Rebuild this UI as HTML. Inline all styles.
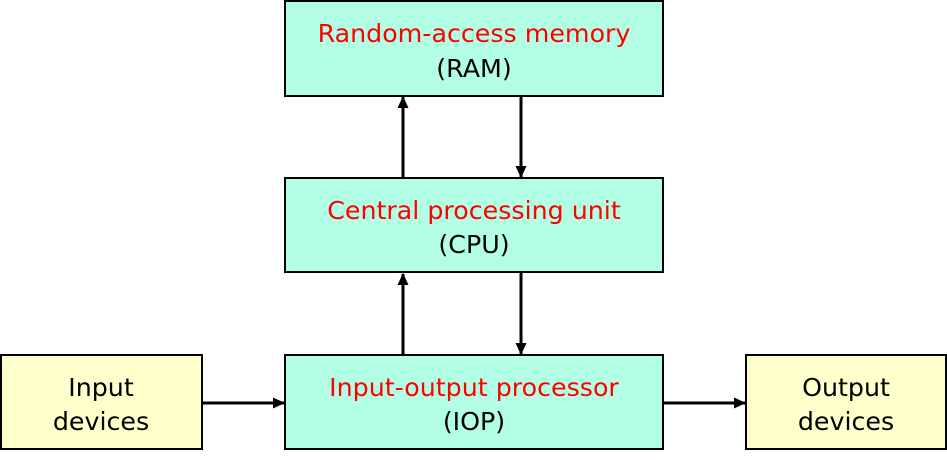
<!DOCTYPE html>
<html><head><style>html,body{margin:0;padding:0;background:#fff}</style></head><body>
<svg width="947" height="456" xmlns="http://www.w3.org/2000/svg" font-family="'DejaVu Sans', 'Liberation Sans', sans-serif" font-size="25.3" text-anchor="middle">
<defs><marker id="a" markerWidth="12" markerHeight="12" refX="11" refY="5.5" orient="auto" markerUnits="userSpaceOnUse"><path d="M0,0 L12,5.5 L0,11 z" fill="#000"/></marker></defs>
<g stroke="#000" stroke-width="2">
<rect x="285" y="1" width="378" height="95" fill="#b3ffe6"/>
<rect x="285" y="178" width="378" height="94" fill="#b3ffe6"/>
<rect x="285" y="355" width="378" height="94" fill="#b3ffe6"/>
<rect x="1" y="355" width="201" height="94" fill="#ffffcc"/>
<rect x="746" y="355" width="200" height="94" fill="#ffffcc"/>
<g stroke-width="3" marker-end="url(#a)">
<line x1="403" y1="178" x2="403" y2="97"/>
<line x1="521" y1="96" x2="521" y2="177"/>
<line x1="403" y1="355" x2="403" y2="274"/>
<line x1="521" y1="272" x2="521" y2="354"/>
<line x1="202" y1="403" x2="284" y2="403"/>
<line x1="663" y1="403" x2="745" y2="403"/>
</g></g>
<g fill="red"><text x="474" y="42">Random-access memory</text><text x="474" y="219">Central processing unit</text><text x="474" y="396">Input-output processor</text></g>
<g fill="#000"><text x="474" y="77">(RAM)</text><text x="474" y="253">(CPU)</text><text x="474" y="430">(IOP)</text>
<text x="101" y="396">Input</text><text x="101" y="430">devices</text>
<text x="846" y="396">Output</text><text x="846" y="430">devices</text></g>
</svg>
</body></html>
